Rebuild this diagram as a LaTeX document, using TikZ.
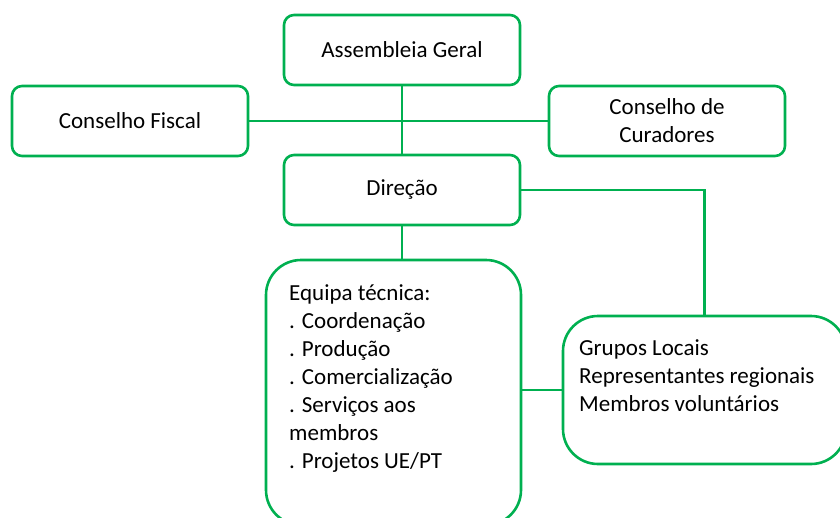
\documentclass[tikz,border=0pt]{standalone}
\usepackage{fontspec}
\setmainfont{Carlito}
\definecolor{og}{HTML}{00B050}
\begin{document}
\begin{tikzpicture}[x=1pt,y=-1pt,
 box/.style={draw=og, line width=2.6pt, rounded corners=10pt, minimum width=236pt, minimum height=70pt, inner sep=0pt, align=center, font=\fontsize{23}{28}\selectfont},
 big/.style={draw=og, line width=2.6pt, rounded corners=35pt, inner sep=0pt},
 txt/.style={align=left, anchor=base west, inner sep=0pt, font=\fontsize{23}{28}\selectfont},
 link/.style={draw=og, line width=2.2pt}]
\useasboundingbox (0,0) rectangle (840,517);
\node[box] (ag) at (402,50) {Assembleia Geral};
\node[box] (cf) at (130,121) {Conselho Fiscal};
\node[box] (cc) at (667,121) {Conselho de\\Curadores};
\node[box] (dir) at (402,190) {Direção};
\node[big, minimum width=255pt, minimum height=265pt] (eq) at (393.5,392.5) {};
\node[big, minimum width=283pt, minimum height=148pt] (gl) at (704.5,390) {};
\node[txt] (eqt) at (289,468) {Equipa técnica:\\. Coordenação\\. Produção\\. Comercialização\\. Serviços aos\\membros\\. Projetos UE/PT};
\node[txt] (glt) at (579,411) {Grupos Locais\\Representantes regionais\\Membros voluntários};
\draw[link] (ag.south) -- (dir.north);
\draw[link] (cf.east) -- (cc.west);
\draw[link] (dir.east) -| (gl.north);
\draw[link] (dir.south) -- (dir.south |- eq.north);
\draw[link] (gl.west) -- (gl.west -| eq.east);
\end{tikzpicture}
\end{document}
